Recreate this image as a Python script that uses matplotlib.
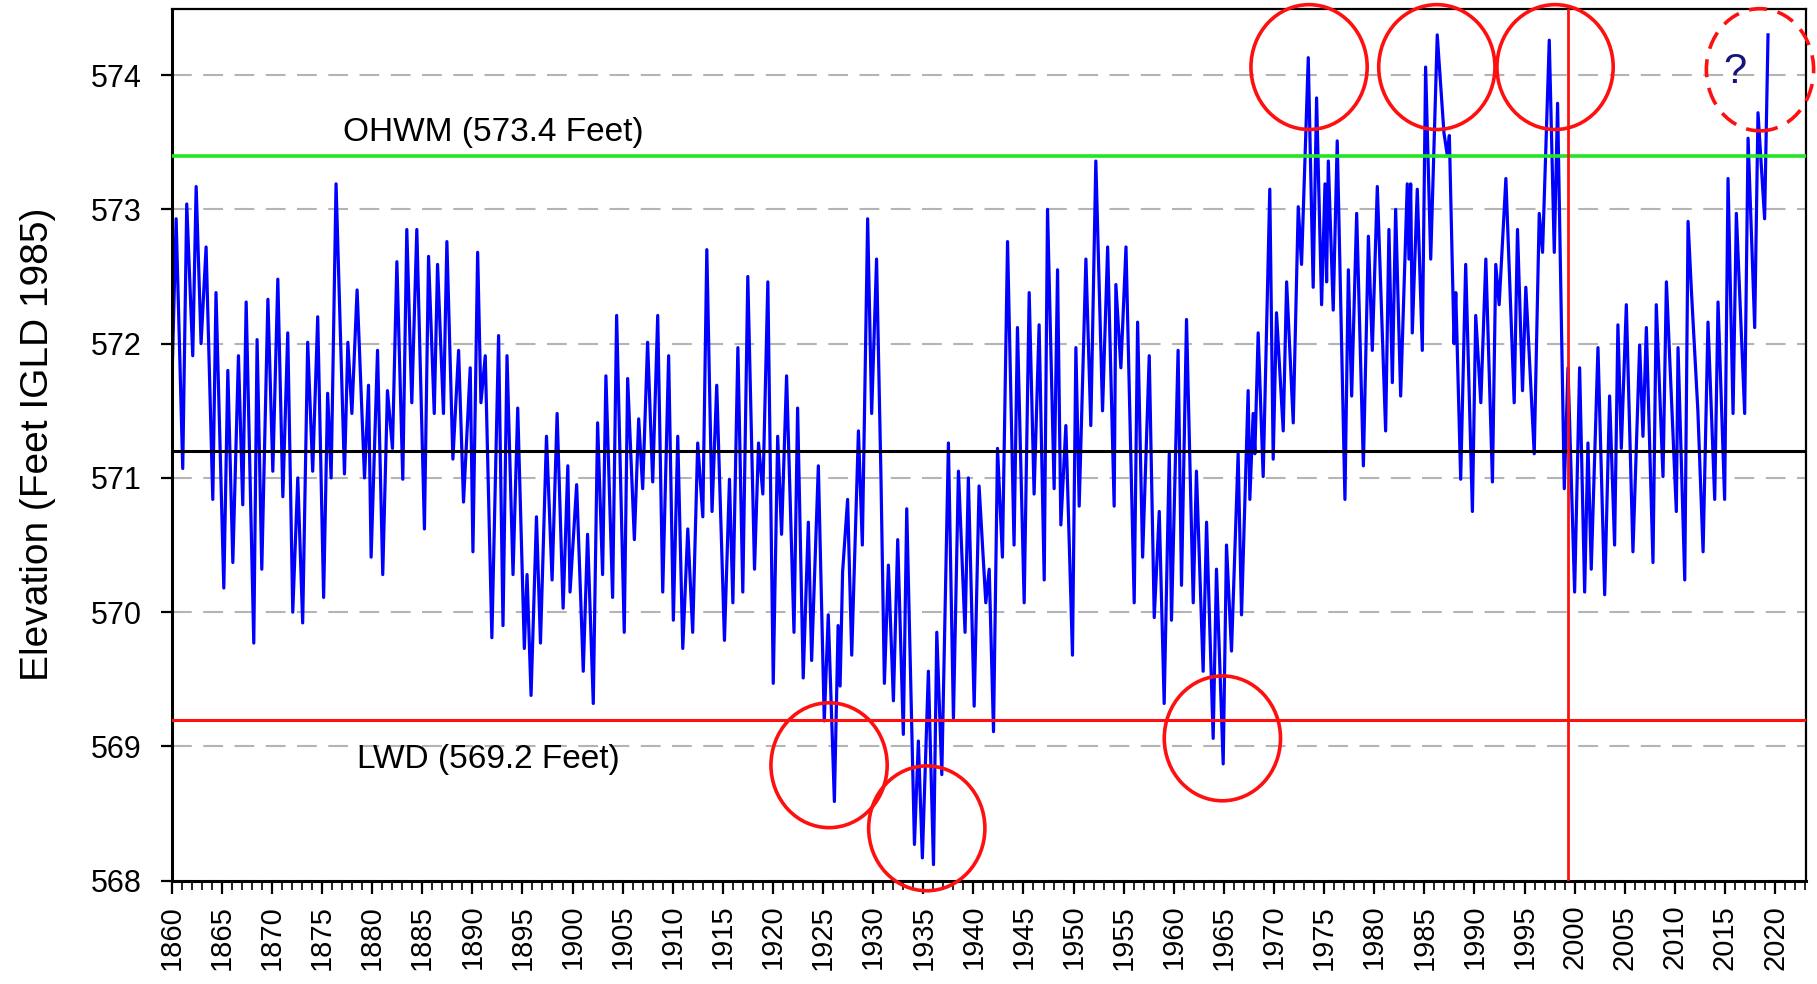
import matplotlib
matplotlib.use("Agg")
import matplotlib.pyplot as plt
from matplotlib.patches import Ellipse
from matplotlib.ticker import MultipleLocator

plt.rcParams['font.family'] = ['Liberation Sans', 'DejaVu Sans']

# seasonal highs / lows (decimal year, feet IGLD 1985)
years = [
    1860.0, 1860.44, 1861.1, 1861.5, 1862.1, 1862.44, 1862.93, 1863.43, 1864.1, 1864.42,
    1865.2, 1865.6, 1866.1, 1866.66, 1867.09, 1867.43, 1868.19, 1868.52, 1868.99, 1869.6,
    1870.09, 1870.59, 1871.09, 1871.58, 1872.08, 1872.58, 1873.07, 1873.57, 1874.07, 1874.57,
    1875.16, 1875.56, 1875.91, 1876.4, 1877.24, 1877.58, 1877.98, 1878.5, 1879.24, 1879.64,
    1879.9, 1880.54, 1881.06, 1881.53, 1882.03, 1882.47, 1883.06, 1883.46, 1883.96, 1884.46,
    1885.22, 1885.63, 1886.2, 1886.53, 1887.12, 1887.46, 1888.06, 1888.63, 1889.12, 1889.79,
    1890.06, 1890.53, 1890.86, 1891.29, 1891.95, 1892.62, 1893.06, 1893.46, 1894.06, 1894.53,
    1895.19, 1895.46, 1895.86, 1896.4, 1896.8, 1897.4, 1897.96, 1898.46, 1899.06, 1899.53,
    1899.75, 1900.41, 1901.07, 1901.5, 1902.07, 1902.5, 1903.0, 1903.33, 1904.0, 1904.4,
    1905.16, 1905.5, 1906.17, 1906.6, 1907.0, 1907.49, 1908.0, 1908.5, 1909.0, 1909.59,
    1910.06, 1910.5, 1911.0, 1911.5, 1911.99, 1912.49, 1913.0, 1913.4, 1913.92, 1914.39,
    1915.16, 1915.66, 1916.0, 1916.5, 1916.99, 1917.49, 1918.16, 1918.56, 1918.99, 1919.49,
    1920.03, 1920.47, 1920.86, 1921.36, 1922.1, 1922.46, 1923.02, 1923.53, 1923.86, 1924.53,
    1925.12, 1925.52, 1926.13, 1926.5, 1926.7, 1926.95, 1927.45, 1927.86, 1928.53, 1928.92,
    1929.45, 1929.85, 1930.34, 1930.78, 1931.12, 1931.52, 1932.02, 1932.45, 1933.01, 1933.35,
    1934.12, 1934.51, 1934.91, 1935.51, 1936.02, 1936.35, 1936.85, 1937.51, 1938.01, 1938.51,
    1939.17, 1939.5, 1940.08, 1940.57, 1941.24, 1941.58, 1942.01, 1942.41, 1942.9, 1943.41,
    1944.06, 1944.4, 1945.07, 1945.57, 1946.06, 1946.56, 1947.07, 1947.4, 1948.06, 1948.4,
    1948.73, 1949.23, 1949.89, 1950.23, 1950.56, 1951.23, 1951.72, 1952.22, 1952.89, 1953.4,
    1954.05, 1954.22, 1954.72, 1955.23, 1956.05, 1956.39, 1956.89, 1957.55, 1958.05, 1958.55,
    1959.04, 1959.55, 1959.77, 1960.43, 1960.77, 1961.27, 1961.94, 1962.26, 1962.93, 1963.27,
    1963.93, 1964.26, 1964.93, 1965.26, 1965.76, 1966.42, 1966.76, 1967.42, 1967.59, 1967.92,
    1968.09, 1968.42, 1968.92, 1969.58, 1969.92, 1970.25, 1970.92, 1971.26, 1971.92, 1972.42,
    1972.75, 1973.42, 1973.91, 1974.25, 1974.75, 1975.09, 1975.25, 1975.42, 1975.91, 1976.31,
    1977.08, 1977.42, 1977.75, 1978.25, 1978.92, 1979.42, 1979.81, 1980.31, 1981.14, 1981.47,
    1981.81, 1982.14, 1982.64, 1983.3, 1983.47, 1983.64, 1983.8, 1984.3, 1984.8, 1985.13,
    1985.64, 1986.29, 1986.96, 1987.3, 1987.5, 1987.97, 1988.14, 1988.63, 1989.13, 1989.8,
    1990.13, 1990.64, 1991.14, 1991.8, 1992.13, 1992.47, 1993.14, 1993.97, 1994.3, 1994.8,
    1995.13, 1995.97, 1996.47, 1996.8, 1997.47, 1997.97, 1998.3, 1998.97, 1999.34, 2000.0,
    2000.5, 2001.0, 2001.33, 2001.66, 2002.33, 2003.0, 2003.49, 2003.99, 2004.32, 2004.66,
    2005.16, 2005.82, 2006.49, 2006.82, 2007.16, 2007.82, 2008.15, 2008.82, 2009.16, 2010.15,
    2010.32, 2010.99, 2011.32, 2011.65, 2012.3, 2012.82, 2013.31, 2013.98, 2014.31, 2014.97,
    2015.31, 2015.81, 2016.14, 2016.97, 2017.31, 2017.97, 2018.3, 2018.96, 2019.3,
]
level = [
    571.65, 572.93, 571.07, 573.04, 571.91, 573.17, 572.0, 572.72, 570.84, 572.38,
    570.18, 571.8, 570.37, 571.91, 570.8, 572.31, 569.77, 572.03, 570.32, 572.33,
    571.05, 572.48, 570.86, 572.08, 570.0, 571.0, 569.92, 572.01, 571.05, 572.2,
    570.11, 571.63, 571.0, 573.19, 571.03, 572.01, 571.48, 572.4, 571.0, 571.69,
    570.41, 571.95, 570.28, 571.65, 571.22, 572.61, 570.99, 572.85, 571.56, 572.85,
    570.62, 572.65, 571.48, 572.59, 571.48, 572.76, 571.14, 571.95, 570.82, 571.82,
    570.45, 572.68, 571.56, 571.91, 569.81, 572.06, 569.9, 571.91, 570.28, 571.52,
    569.73, 570.28, 569.38, 570.71, 569.77, 571.31, 570.24, 571.48, 570.03, 571.09,
    570.15, 570.95, 569.56, 570.58, 569.32, 571.41, 570.28, 571.76, 570.11, 572.21,
    569.85, 571.74, 570.54, 571.44, 570.92, 572.01, 570.97, 572.21, 570.15, 571.91,
    569.94, 571.31, 569.73, 570.62, 569.85, 571.26, 570.71, 572.7, 570.75, 571.69,
    569.79, 570.99, 570.07, 571.97, 570.15, 572.5, 570.32, 571.26, 570.88, 572.46,
    569.47, 571.31, 570.58, 571.76, 569.85, 571.52, 569.51, 570.67, 569.64, 571.09,
    569.19, 569.98, 568.59, 569.9, 569.45, 570.3, 570.84, 569.68, 571.35, 570.5,
    572.93, 571.48, 572.63, 571.0, 569.47, 570.35, 569.34, 570.54, 569.09, 570.77,
    568.27, 569.04, 568.17, 569.56, 568.12, 569.85, 568.79, 571.26, 569.21, 571.05,
    569.85, 571.0, 569.3, 570.94, 570.07, 570.32, 569.11, 571.22, 570.41, 572.76,
    570.5, 572.12, 570.07, 572.38, 570.88, 572.14, 570.24, 573.0, 570.92, 572.55,
    570.65, 571.39, 569.68, 571.97, 570.79, 572.63, 571.39, 573.36, 571.5, 572.72,
    570.79, 572.44, 571.82, 572.72, 570.07, 572.16, 570.41, 571.91, 569.96, 570.75,
    569.32, 571.18, 569.94, 571.95, 570.2, 572.18, 570.07, 571.05, 569.56, 570.67,
    569.06, 570.32, 568.87, 570.5, 569.71, 571.18, 569.98, 571.65, 570.84, 571.48,
    571.18, 572.08, 571.01, 573.15, 571.14, 572.23, 571.35, 572.46, 571.41, 573.02,
    572.59, 574.13, 572.42, 573.83, 572.29, 573.19, 572.46, 573.36, 572.25, 573.51,
    570.84, 572.55, 571.61, 572.97, 571.09, 572.8, 571.95, 573.17, 571.35, 572.85,
    571.71, 573.0, 571.61, 573.19, 572.63, 573.19, 572.08, 573.15, 571.95, 574.06,
    572.63, 574.3, 573.57, 573.4, 573.55, 572.0, 572.38, 570.99, 572.59, 570.75,
    572.21, 571.56, 572.63, 570.97, 572.59, 572.29, 573.23, 571.56, 572.85, 571.65,
    572.42, 571.18, 572.97, 572.68, 574.26, 572.68, 573.79, 570.92, 571.82, 570.15,
    571.82, 570.15, 571.26, 570.32, 571.97, 570.13, 571.61, 570.5, 572.14, 571.22,
    572.29, 570.45, 571.99, 571.31, 572.12, 570.37, 572.29, 571.01, 572.46, 570.75,
    571.97, 570.24, 572.91, 572.4, 571.5, 570.45, 572.16, 570.84, 572.31, 570.84,
    573.23, 571.48, 572.97, 571.48, 573.53, 572.12, 573.72, 572.93, 574.3,
]

ohwm = 573.4
lwd = 569.2
long_term_mean = 571.2
split_year = 1999.3
yticks = [568, 569, 570, 571, 572, 573, 574]

# red circles marking extremes: (year, level, width in years, height in feet)
circles = [
    (1925.6, 568.86, 11.6, 0.93),
    (1935.35, 568.39, 11.6, 0.93),
    (1964.85, 569.06, 11.6, 0.93),
    (1973.5, 574.06, 11.6, 0.93),
    (1986.25, 574.06, 11.6, 0.93),
    (1998.05, 574.06, 11.6, 0.93),
]
question_circle = (2018.5, 574.04, 10.7, 0.91)

fig = plt.figure(figsize=(18.17, 9.84), dpi=100)
ax = fig.add_axes([0.0945, 0.105, 0.8995, 0.8855])

for v in yticks:
    ax.axhline(v, color='#b4b4b4', lw=1.5, ls=(0, (9.5, 5.5)), zorder=1)

ax.plot(years, level, color='#0000ff', lw=2.3, zorder=2)

ax.axhline(ohwm, color='#22e622', lw=2.6, zorder=3)
ax.axhline(long_term_mean, color='black', lw=2.2, zorder=3)
ax.axhline(lwd, color='#ff1010', lw=2.2, zorder=3)
ax.axvline(split_year, color='#ff1010', lw=2.0, zorder=3)

ax.text(1877.1, 573.57, 'OHWM (573.4 Feet)', fontsize=24, va='center', ha='left')
ax.text(1878.5, 568.9, 'LWD (569.2 Feet)', fontsize=24, va='center', ha='left')

for cx, cy, w, h in circles:
    ax.add_patch(Ellipse((cx, cy), w, h, fill=False, edgecolor='#ff1010', lw=2.6,
                         zorder=5, clip_on=False))
cx, cy, w, h = question_circle
ax.add_patch(Ellipse((cx, cy), w, h, fill=False, edgecolor='#ff1010', lw=2.6,
                     ls=(0, (5, 3)), zorder=5, clip_on=False))
ax.text(2016.0, 574.02, '?', fontsize=30, color='#14147a', ha='center', va='center', zorder=6)

ax.set_xlim(1860, 2023.1)
ax.set_ylim(568, 574.49)
ax.set_yticks(yticks)
ax.xaxis.set_major_locator(MultipleLocator(5))
ax.xaxis.set_minor_locator(MultipleLocator(1))
ax.set_xticks(range(1860, 2021, 5))
ax.set_xticklabels([str(y) for y in range(1860, 2021, 5)], rotation=90)

ax.tick_params(axis='y', which='major', direction='out', length=7.7, width=1.6,
               labelsize=22, pad=14)
ax.tick_params(axis='x', which='major', direction='out', length=9.4, width=1.6,
               labelsize=21, pad=8)
ax.tick_params(axis='x', which='minor', direction='out', length=6.5, width=1.2)

for side in ['left', 'bottom']:
    ax.spines[side].set_linewidth(2.2)
for side in ['top', 'right']:
    ax.spines[side].set_linewidth(1.6)

fig.text(0.021, 0.548, 'Elevation (Feet IGLD 1985)', rotation=90, fontsize=28,
         ha='center', va='center')

fig.savefig('out.png', dpi=100)
